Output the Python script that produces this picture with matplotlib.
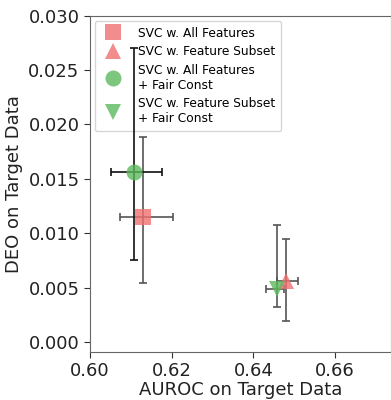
import matplotlib
matplotlib.use("Agg")
import matplotlib.pyplot as plt

labels = ["SVC w. All Features", "SVC w. Feature Subset",
          "SVC w. All Features\n+ Fair Const", "SVC w. Feature Subset\n+ Fair Const"]
auroc = [0.6129, 0.6480, 0.61085, 0.6458]
auroc_lo = [0.60735, 0.6458, 0.60514, 0.6431]
auroc_hi = [0.62025, 0.6509, 0.61763, 0.6475]
deo = [0.01148, 0.00561, 0.01559, 0.00482]
deo_lo = [0.0054, 0.00193, 0.00755, 0.00317]
deo_hi = [0.01881, 0.00945, 0.02706, 0.01077]
markers = ["s", "^", "o", "v"]
colors = ["#f07070", "#f07070", "#5cb85c", "#5cb85c"]
ecolors = ["#555555", "#555555", "#111111", "#555555"]

fig = plt.figure(figsize=(3.91, 4.0), dpi=100)
ax = fig.add_axes([0.2302, 0.1208, 0.77, 0.84])
for i in range(4):
    xerr = [[auroc[i] - auroc_lo[i]], [auroc_hi[i] - auroc[i]]]
    yerr = [[deo[i] - deo_lo[i]], [deo_hi[i] - deo[i]]]
    ax.errorbar(auroc[i], deo[i], xerr=xerr, yerr=yerr,
                fmt="none", ecolor=ecolors[i], elinewidth=1.2, capsize=3, capthick=1.2, zorder=6)
    ax.plot(auroc[i], deo[i], linestyle="none", marker=markers[i], markersize=11.5,
            color=colors[i], alpha=0.8, markeredgewidth=0, label=labels[i], zorder=7)

ax.set_xlim(0.6, 0.6737)
ax.set_ylim(-0.0009, 0.030)
ax.set_xticks([0.60, 0.62, 0.64, 0.66])
ax.set_yticks([0.0, 0.005, 0.010, 0.015, 0.020, 0.025, 0.030])
ax.tick_params(labelsize=13, color="#333333", length=4, labelcolor="#222222")
for s in ax.spines.values():
    s.set_color("#666666")
ax.set_xlabel("AUROC on Target Data", fontsize=13, color="#222222", labelpad=1)
ax.set_ylabel("DEO on Target Data", fontsize=13, color="#222222")
leg = ax.legend(loc="upper left", fontsize=8.8, markerscale=1.0, handletextpad=1.0,
                labelspacing=0.45, borderpad=0.5, framealpha=0.8, borderaxespad=0.4)
leg.set_zorder(5)
fig.savefig("out.png", dpi=100)
